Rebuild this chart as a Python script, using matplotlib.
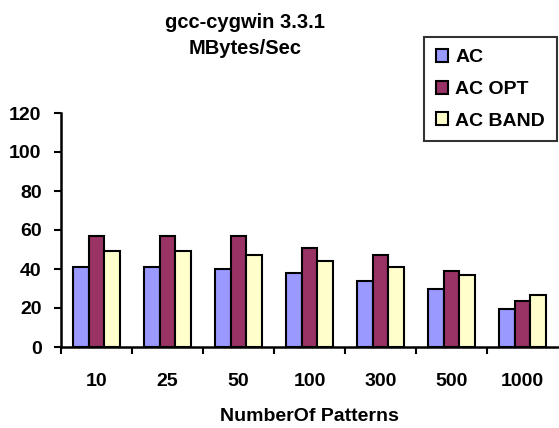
import matplotlib.pyplot as plt
import numpy as np

plt.rcParams["font.family"] = ["Liberation Sans", "DejaVu Sans"]
plt.rcParams["font.weight"] = "bold"

patterns = ["10", "25", "50", "100", "300", "500", "1000"]
ac = [41, 41, 40, 38, 34, 30, 19.5]
ac_opt = [57, 57, 57, 51, 47, 39, 23.5]
ac_band = [49, 49, 47, 44, 41, 37, 26.5]

series = [("AC", ac, "#9999FF"),
          ("AC OPT", ac_opt, "#993366"),
          ("AC BAND", ac_band, "#FFFFCC")]

FS = 14

fig = plt.figure(figsize=(5.59, 4.28), dpi=100)
ax = fig.add_axes([61 / 559, 81 / 428, 497 / 559, 234 / 428])

x = np.arange(len(patterns))
w = 0.225
for i, (name, vals, col) in enumerate(series):
    ax.bar(x + (i - 1) * w, vals, w, color=col, edgecolor="black",
           linewidth=1.5, label=name)

ax.set_xlim(-0.5, len(patterns) - 0.5)
ax.set_ylim(0, 120)
ax.set_yticks(range(0, 121, 20))
ax.tick_params(axis="y", direction="out", length=5, width=1.5, labelsize=FS, pad=9)

# group labels centred, tick marks between groups
ax.set_xticks(x)
ax.set_xticklabels(patterns)
ax.tick_params(axis="x", which="major", length=0, labelsize=FS, pad=19)
ax.set_xticks(np.arange(len(patterns)) - 0.5, minor=True)
ax.tick_params(axis="x", which="minor", direction="out", length=5, width=1.5)

for s in ["top", "right"]:
    ax.spines[s].set_visible(False)
for s in ["left", "bottom"]:
    ax.spines[s].set_linewidth(1.8)

ax.set_xlabel("NumberOf Patterns", fontsize=FS, fontweight="bold", labelpad=13)

fig.text(245 / 559, 1 - 22 / 428, "gcc-cygwin 3.3.1", ha="center", va="center",
         fontsize=14.5, fontweight="bold")
fig.text(245 / 559, 1 - 49 / 428, "MBytes/Sec", ha="center", va="center",
         fontsize=14.5, fontweight="bold")

leg = fig.legend(loc="upper left", bbox_to_anchor=(424 / 559, 1 - 37 / 428),
                 frameon=True, fancybox=False, edgecolor="black",
                 prop={"size": FS, "weight": "bold"},
                 handlelength=0.65, handleheight=0.65, handletextpad=0.35,
                 labelspacing=0.75, borderpad=0.6, borderaxespad=0)
leg.get_frame().set_linewidth(1.5)

fig.savefig("out.png", dpi=100)
